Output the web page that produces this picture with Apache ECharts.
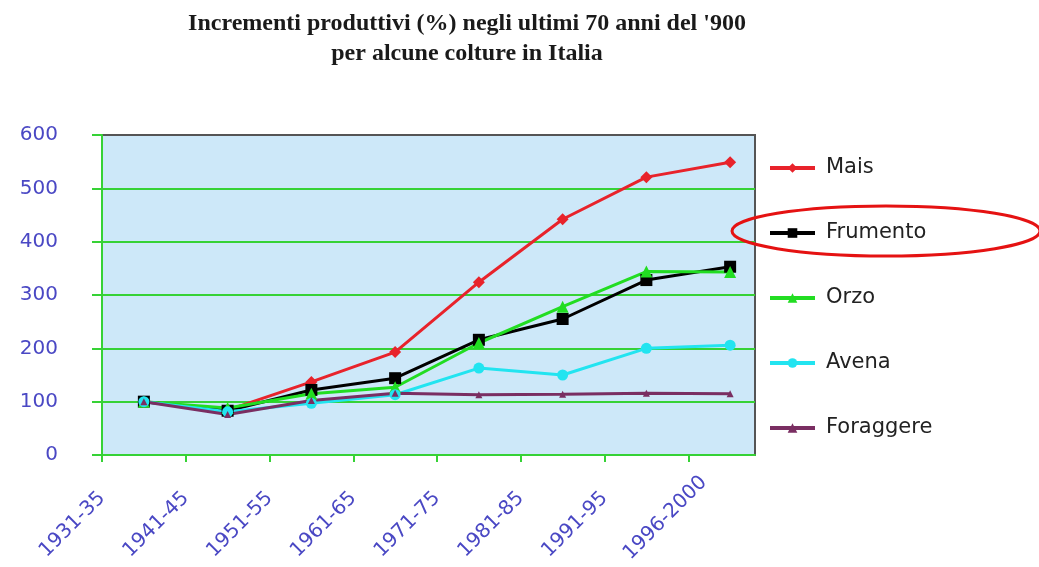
<!DOCTYPE html>
<html>
<head>
<meta charset="utf-8">
<title>Incrementi produttivi</title>
<script src="https://cdn.jsdelivr.net/npm/echarts@6/dist/echarts.min.js"></script>
<style>
  html, body { margin: 0; padding: 0; background: #fff; }
  #chart { width: 1039px; height: 567px; }
</style>
</head>
<body>
<div id="chart"></div>
<script>
// Periods (five-year averages) and yield index, base 1931-35 = 100
const periods = ['1931-35', '1941-45', '1951-55', '1961-65', '1971-75', '1981-85', '1991-95', '1996-2000'];
const mais      = [100, 84, 137, 193, 324, 442, 521, 549];
const frumento  = [100, 83, 122, 144, 216, 255, 328, 353];
const orzo      = [100, 88, 115, 127, 210, 278, 344, 343];
const avena     = [100, 81,  97, 113, 163, 150, 200, 206];
const foraggere = [100, 76, 102, 116, 113, 114, 116, 115];
const yTicks = [0, 100, 200, 300, 400, 500, 600];

const axisBlue = '#4a48c4';
const gridGreen = '#36d236';
const labelFont = 'DejaVu Sans';

function lineSeries(name, data, color, symbol, size) {
  return {
    name: name,
    type: 'line',
    xAxisIndex: 1,
    yAxisIndex: 1,
    data: data,
    symbol: symbol,
    symbolSize: size,
    lineStyle: { color: color, width: 3 },
    itemStyle: { color: color },
    emphasis: { disabled: true }
  };
}

const chart = echarts.init(document.getElementById('chart'), null, { renderer: 'canvas' });

chart.setOption({
  animation: false,
  backgroundColor: '#ffffff',
  title: {
    text: "Incrementi produttivi (%) negli ultimi 70 anni del '900\nper alcune colture in Italia",
    left: 462,
    top: 4,
    textAlign: 'center',
    textStyle: {
      fontFamily: 'Liberation Serif',
      fontWeight: 'bold',
      fontSize: 24,
      lineHeight: 30,
      color: '#1a1a1a'
    }
  },
  legend: {
    orient: 'vertical',
    left: 768,
    top: 150,
    padding: 0,
    itemWidth: 45,
    itemHeight: 12,
    itemGap: 29,
    lineStyle: { width: 4 },
    textStyle: {
      fontFamily: labelFont,
      fontSize: 21,
      lineHeight: 24,
      color: '#222',
      padding: [0, 0, 12, 6]
    },
    data: ['Mais', 'Frumento', 'Orzo', 'Avena', 'Foraggere']
  },
  grid: [
    {
      // visible plot frame
      left: 102,
      top: 135,
      right: 284,
      bottom: 112,
      outerBoundsMode: 'none',
      containLabel: false,
      show: true,
      backgroundColor: '#cde8f9',
      borderColor: '#555',
      borderWidth: 2
    },
    {
      // category band used by the series and period labels
      left: 102,
      top: 135,
      width: 670,
      bottom: 112,
      outerBoundsMode: 'none',
      containLabel: false,
      show: false
    }
  ],
  xAxis: [
    {
      gridIndex: 0,
      type: 'category',
      data: periods,
      axisLine: { lineStyle: { color: gridGreen, width: 2 } },
      axisTick: { show: false },
      axisLabel: { show: false },
      splitLine: { show: false }
    },
    {
      gridIndex: 1,
      type: 'category',
      data: periods,
      boundaryGap: true,
      show: false
    },
    {
      gridIndex: 1,
      type: 'category',
      position: 'bottom',
      data: periods.concat(['']),
      boundaryGap: false,
      axisLine: { show: false },
      axisTick: {
        show: true,
        length: 7,
        interval: function (i) { return i < periods.length; },
        lineStyle: { color: gridGreen, width: 2 }
      },
      splitLine: { show: false },
      axisLabel: {
        interval: 0,
        rotate: 45,
        margin: 40,
        fontFamily: labelFont,
        fontSize: 20,
        color: axisBlue,
        // the last, longer period name sits a little further up the slope
        formatter: function (value, index) {
          return index === periods.length - 1 ? '{last|' + value + '}' : value;
        },
        rich: {
          last: {
            fontFamily: labelFont,
            fontSize: 20,
            color: axisBlue,
            padding: [0, -22, 0, 0]
          }
        }
      }
    }
  ],
  yAxis: [
    {
      gridIndex: 0,
      type: 'value',
      min: yTicks[0],
      max: yTicks[yTicks.length - 1],
      interval: 100,
      axisLine: { show: true, lineStyle: { color: gridGreen, width: 2 } },
      axisTick: { show: true, length: 10, lineStyle: { color: gridGreen, width: 2 } },
      axisLabel: {
        margin: 44,
        fontFamily: labelFont,
        fontSize: 20,
        color: axisBlue,
        padding: [0, 0, 12, 0]
      },
      splitLine: { show: true, showMaxLine: false, lineStyle: { color: gridGreen, width: 2 } }
    },
    {
      gridIndex: 1,
      type: 'value',
      min: yTicks[0],
      max: yTicks[yTicks.length - 1],
      show: false
    }
  ],
  series: [
    lineSeries('Mais', mais, '#e8232b', 'diamond', 12),
    lineSeries('Frumento', frumento, '#000000', 'rect', 12),
    lineSeries('Orzo', orzo, '#22dd22', 'triangle', 12),
    lineSeries('Avena', avena, '#22e4f0', 'circle', 11),
    lineSeries('Foraggere', foraggere, '#7a2e62', 'triangle', 7)
  ],
  graphic: [
    {
      type: 'ellipse',
      shape: { cx: 886, cy: 231, rx: 154, ry: 25 },
      style: { fill: null, stroke: '#e51212', lineWidth: 3 },
      z: 100
    }
  ]
});
</script>
</body>
</html>
